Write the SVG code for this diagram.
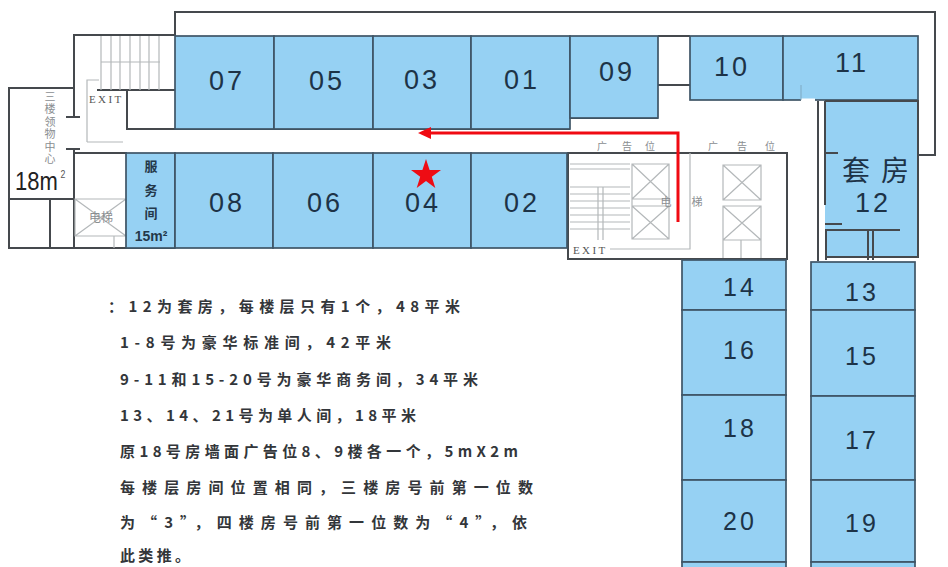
<svg xmlns="http://www.w3.org/2000/svg" width="948" height="567" viewBox="0 0 948 567">
<defs><style>
.r{fill:#96d1f3;stroke:#3f5566;stroke-width:1.7}
.w{fill:none;stroke:#45494d;stroke-width:2}
.g{fill:none;stroke:#b4b8ba;stroke-width:1.2}
.n{font-family:"Liberation Sans",sans-serif;font-size:27px;fill:#1d3347;text-anchor:middle;letter-spacing:3px}
.m{font-size:25px}
.s{font-family:"Noto Sans CJK SC",sans-serif;font-size:15px;fill:#33363a;font-weight:700}
.c{font-family:"Noto Sans CJK SC",sans-serif;fill:#8a8e91;text-anchor:middle}
.e{font-family:"Liberation Serif",serif;font-size:11px;fill:#555;letter-spacing:2.4px}
</style></defs>
<rect width="948" height="567" fill="#fff"/>
<g id="walls">
<path class="w" d="M175 36V12H935V155H918"/>
<path class="w" d="M175 35H74V118M66 117H80M66 149H80M74 149V248M74 88H9V248H175M9 199H74M50 199V248M74 153H127M97 90H175M127 90V129H175M129 129H570M658 36H690M658 85H690M658 118H570"/>
</g>
<g id="stairs-west">
<path class="g" d="M101 90V36M111 90V36M120 90V36M130 90V36M140 90V36M149 90V36M159 90V36M101 62H160M87 142V80H99M87 142H123"/>
<text class="e" x="89" y="103">EXIT</text>
</g>
<g id="lift-west">
<path class="g" d="M75 199H126V236H75ZM75 199L126 236M126 199L75 236M114 236V248"/>
<text class="c" font-size="12" x="101" y="222">电梯</text>
</g>
<g id="lift-core">
<rect x="568" y="153" width="219" height="106" fill="#fff" stroke="#45494d" stroke-width="2"/>
<path class="g" d="M570 164H630M570 169H630M570 187H630M570 194H630M570 201H630M570 208H630M570 215H630M570 222H630M570 229H630M598 187V240M603 187V240M632 164H669V239H632ZM632 199H669M632 164L669 199M669 164L632 199M632 206H669M632 206L669 239M669 206L632 239M690 153V249H610M723 165H761V200H723ZM723 165L761 200M761 165L723 200M723 206H761V240H723ZM723 206L761 240M761 206L723 240M723 240V258M741 240V258M761 240V258"/>
<text class="e" x="573" y="254">EXIT</text>
<g class="c" font-size="10"><text x="602" y="150">广</text><text x="627" y="150">告</text><text x="650" y="150">位</text><text x="713" y="150">广</text><text x="742" y="150">告</text><text x="770" y="150">位</text></g>
<text class="c" font-size="11" x="666" y="206">电</text>
<text class="c" font-size="11" x="697" y="206">梯</text>
</g>
<g id="room-07"><rect class="r" x="175" y="36" width="99" height="93"/><text class="n" x="227" y="90">07</text></g>
<g id="room-05"><rect class="r" x="274" y="36" width="99" height="93"/><text class="n" x="327" y="90">05</text></g>
<g id="room-03"><rect class="r" x="373" y="36" width="98" height="93"/><text class="n" x="422" y="89">03</text></g>
<g id="room-01"><rect class="r" x="471" y="36" width="99" height="93"/><text class="n" x="522" y="89">01</text></g>
<g id="room-09"><rect class="r" x="570" y="36" width="88" height="82"/><text class="n" x="617" y="81">09</text></g>
<g id="room-10"><rect class="r" x="690" y="36" width="93" height="64"/><text class="n" x="732" y="76">10</text></g>
<g id="room-11"><rect class="r" x="783" y="36" width="135" height="64"/><path d="M801 100H815" stroke="#fff" stroke-width="3"/><path d="M801 85V100" stroke="#7fa9c2"/><text class="n" x="852" y="72">11</text></g>
<g id="service"><rect class="r" x="126" y="153" width="49" height="95"/>
<g font-family="Noto Sans CJK SC,sans-serif" font-size="13" font-weight="700" fill="#24384a" text-anchor="middle"><text x="151" y="171">服</text><text x="151" y="195">务</text><text x="151" y="218">间</text></g>
<text font-family="Liberation Sans,sans-serif" font-size="14" font-weight="700" fill="#24384a" x="151" y="241" text-anchor="middle">15m²</text></g>
<g id="room-08"><rect class="r" x="175" y="153" width="98" height="95"/><text class="n" x="227" y="212">08</text></g>
<g id="room-06"><rect class="r" x="273" y="153" width="100" height="95"/><text class="n" x="325" y="212">06</text></g>
<g id="room-04"><rect class="r" x="373" y="153" width="98" height="95"/><text class="n" x="423" y="212">04</text></g>
<g id="room-02"><rect class="r" x="471" y="153" width="96" height="95"/><text class="n" x="522" y="212">02</text></g>
<g id="room-12"><rect x="825" y="101" width="93" height="157" fill="#96d1f3"/>
<path class="w" d="M818 101V261M825 101V205M825 101H918V258M825 153H838M825 224H842M825 230H900M825 257H918M826 230V260M868 230V260M873 230V260"/>
<text font-family="Noto Sans CJK SC,sans-serif" font-size="28" fill="#1d3347" x="842" y="181">套</text>
<text font-family="Noto Sans CJK SC,sans-serif" font-size="28" fill="#1d3347" x="881" y="181">房</text>
<text class="n" x="873" y="212">12</text></g>
<g id="room-14"><rect class="r" x="682" y="260" width="104" height="50"/><text class="n m" x="740" y="296">14</text></g>
<g id="room-16"><rect class="r" x="682" y="310" width="104" height="85"/><text class="n m" x="740" y="359">16</text></g>
<g id="room-18"><rect class="r" x="682" y="395" width="104" height="85"/><text class="n m" x="740" y="437">18</text></g>
<g id="room-20"><rect class="r" x="682" y="480" width="104" height="82"/><text class="n m" x="740" y="530">20</text></g>
<rect class="r" x="682" y="562" width="104" height="8"/>
<g id="room-13"><rect class="r" x="811" y="262" width="104" height="48"/><text class="n m" x="862" y="301">13</text></g>
<g id="room-15"><rect class="r" x="811" y="310" width="104" height="86"/><text class="n m" x="862" y="365">15</text></g>
<g id="room-17"><rect class="r" x="811" y="396" width="104" height="84"/><text class="n m" x="862" y="449">17</text></g>
<g id="room-19"><rect class="r" x="811" y="480" width="104" height="82"/><text class="n m" x="862" y="532">19</text></g>
<rect class="r" x="811" y="562" width="104" height="8"/>
<g id="pickup-label">
<text font-family="Noto Sans CJK SC,sans-serif" font-size="11" fill="#8a8e91" x="50" y="91" writing-mode="vertical-rl" letter-spacing="1.5">三楼领物中心</text>
<text font-family="Liberation Sans,sans-serif" font-size="25" fill="#222" transform="translate(15 190) scale(.88 1)">18m<tspan font-size="10" fill="#555" dx="3" dy="-12">2</tspan></text>
</g>
<g id="notes">
<text class="s" x="108" y="312" textLength="352" lengthAdjust="spacing">：12为套房，每楼层只有1个，48平米</text>
<text class="s" x="120" y="348" textLength="271" lengthAdjust="spacing">1-8号为豪华标准间，42平米</text>
<text class="s" x="120" y="385" textLength="358" lengthAdjust="spacing">9-11和15-20号为豪华商务间，34平米</text>
<text class="s" x="120" y="421" textLength="296" lengthAdjust="spacing">13、14、21号为单人间，18平米</text>
<text class="s" x="120" y="457" textLength="398" lengthAdjust="spacing">原18号房墙面广告位8、9楼各一个，5mX2m</text>
<text class="s" x="120" y="493" textLength="413" lengthAdjust="spacing">每楼层房间位置相同，三楼房号前第一位数</text>
<text class="s" x="120" y="528" textLength="407" lengthAdjust="spacing">为“3”，四楼房号前第一位数为“4”，依</text>
<text class="s" x="120" y="561" textLength="70" lengthAdjust="spacing">此类推。</text>
</g>
<g id="connectors">
<path d="M678 222V133H428" fill="none" stroke="#f00a12" stroke-width="3"/>
<path d="M418 133L431 127V139Z" fill="#f00a12"/>
</g>
<polygon id="star" fill="#ee0c14" points="426,159 429.6,170 441,170 431.8,176.800 435.300,188 426,181 416.700,188 420.200,176.800 411,170 422.400,170"/>
</svg>
